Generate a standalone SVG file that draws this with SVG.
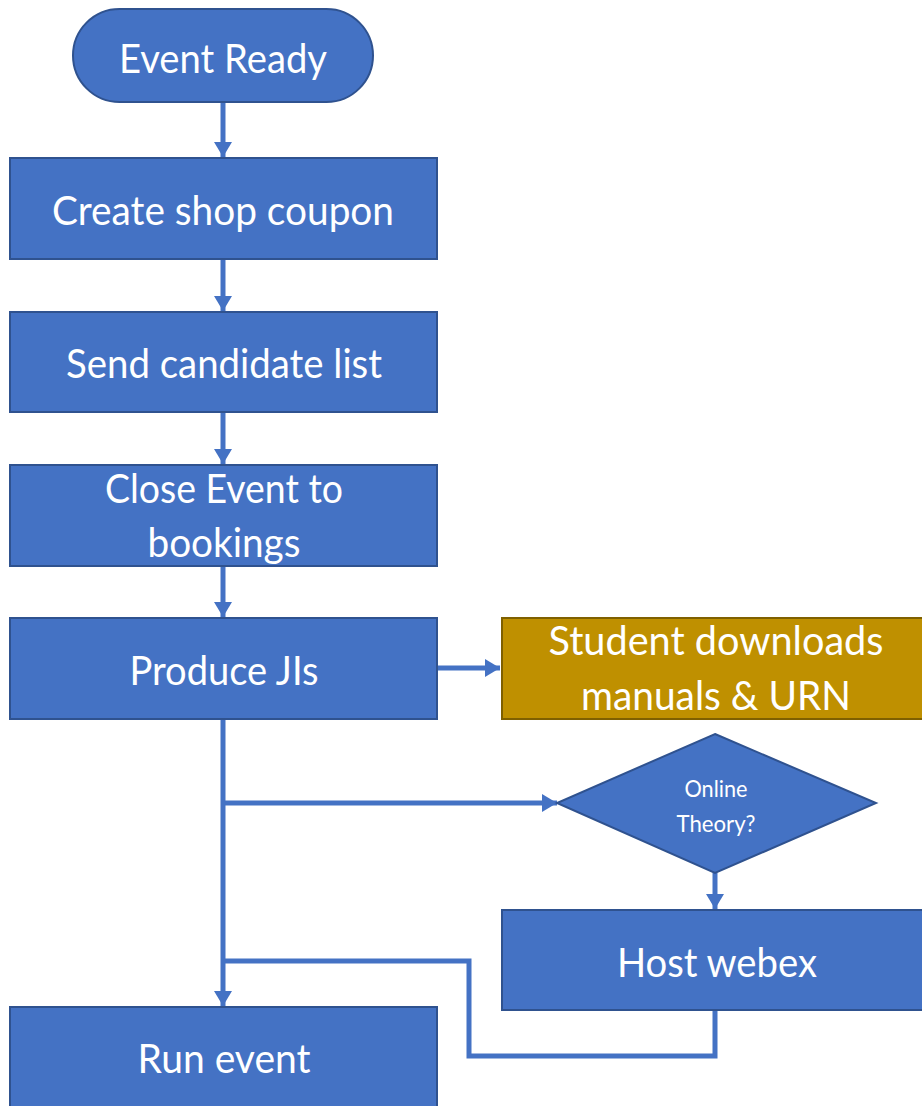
<svg xmlns="http://www.w3.org/2000/svg" width="922" height="1106" viewBox="0 0 922 1106">
  <style>
    .proc { fill: #4472C4; stroke: #2F528F; stroke-width: 2; }
    .gold { fill: #BF9000; stroke: #7F6000; stroke-width: 2; }
    .lbl { font-family: Lato, "Open Sans", "Liberation Sans", sans-serif; fill: #FFFFFF; font-size: 40px; text-anchor: middle; }
    .sm { font-size: 23px; }
    .wire { fill: none; stroke: #4472C4; stroke-width: 5; }
  </style>
  <defs>
    <marker id="arrow" markerUnits="userSpaceOnUse" markerWidth="18" markerHeight="20" refX="15" refY="9" orient="auto">
      <path d="M0,0 L15,9 L0,18 Z" fill="#4472C4"/>
    </marker>
  </defs>
  <rect width="922" height="1106" fill="#FFFFFF"/>

  <g id="connectors">
    <line class="wire" x1="223" y1="102" x2="223" y2="157" marker-end="url(#arrow)"/>
    <line class="wire" x1="223" y1="259" x2="223" y2="311" marker-end="url(#arrow)"/>
    <line class="wire" x1="223" y1="412" x2="223" y2="464" marker-end="url(#arrow)"/>
    <line class="wire" x1="223" y1="566" x2="223" y2="617" marker-end="url(#arrow)"/>
    <line class="wire" x1="437" y1="668" x2="500" y2="668" marker-end="url(#arrow)"/>
    <line class="wire" x1="223" y1="719" x2="223" y2="1006" marker-end="url(#arrow)"/>
    <line class="wire" x1="223" y1="803" x2="557" y2="803" marker-end="url(#arrow)"/>
    <line class="wire" x1="715" y1="873" x2="715" y2="909" marker-end="url(#arrow)"/>
    <polyline class="wire" points="715,1010 715,1056 469,1056 469,961 223,961"/>
  </g>

  <g id="event-ready">
    <rect class="proc" x="73" y="9" width="300" height="93" rx="46.5" ry="46.5"/>
    <text class="lbl" x="223" y="73" textLength="208" lengthAdjust="spacingAndGlyphs">Event Ready</text>
  </g>

  <g id="create-coupon">
    <rect class="proc" x="10" y="158" width="427" height="101"/>
    <text class="lbl" x="223" y="225" textLength="342" lengthAdjust="spacingAndGlyphs">Create shop coupon</text>
  </g>

  <g id="send-list">
    <rect class="proc" x="10" y="312" width="427" height="100"/>
    <text class="lbl" x="224" y="378" textLength="316" lengthAdjust="spacingAndGlyphs">Send candidate list</text>
  </g>

  <g id="close-event">
    <rect class="proc" x="10" y="465" width="427" height="101"/>
    <text class="lbl" x="224" y="503" textLength="238" lengthAdjust="spacingAndGlyphs">Close Event to</text>
    <text class="lbl" x="224" y="557" textLength="153" lengthAdjust="spacingAndGlyphs">bookings</text>
  </g>

  <g id="produce-jis">
    <rect class="proc" x="10" y="618" width="427" height="101"/>
    <text class="lbl" x="224" y="685" textLength="189" lengthAdjust="spacingAndGlyphs">Produce JIs</text>
  </g>

  <g id="student-downloads">
    <rect class="gold" x="502" y="618" width="422" height="101"/>
    <text class="lbl" x="716" y="655" textLength="335" lengthAdjust="spacingAndGlyphs">Student downloads</text>
    <text class="lbl" x="716" y="710" textLength="270" lengthAdjust="spacingAndGlyphs">manuals &amp; URN</text>
  </g>

  <g id="online-theory">
    <polygon class="proc" points="715,734 876,803 715,873 557,803"/>
    <text class="lbl sm" x="716" y="797" textLength="63" lengthAdjust="spacingAndGlyphs">Online</text>
    <text class="lbl sm" x="716" y="832" textLength="79" lengthAdjust="spacingAndGlyphs">Theory?</text>
  </g>

  <g id="host-webex">
    <rect class="proc" x="502" y="910" width="422" height="100"/>
    <text class="lbl" x="717" y="977" textLength="200" lengthAdjust="spacingAndGlyphs">Host webex</text>
  </g>

  <g id="run-event">
    <rect class="proc" x="10" y="1007" width="427" height="101"/>
    <text class="lbl" x="224" y="1073" textLength="173" lengthAdjust="spacingAndGlyphs">Run event</text>
  </g>
</svg>
